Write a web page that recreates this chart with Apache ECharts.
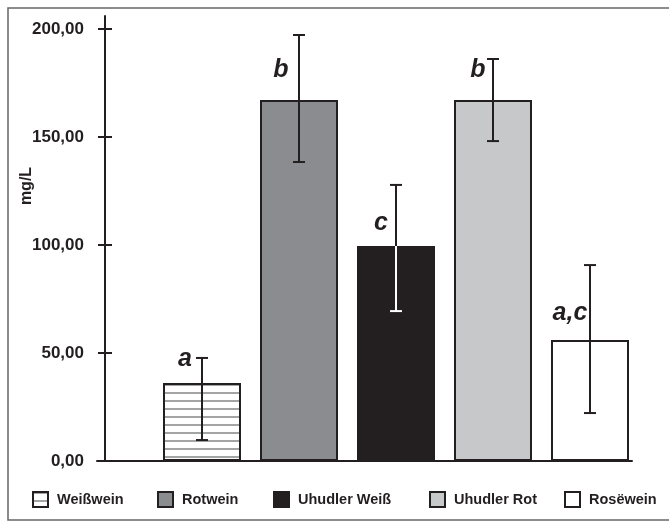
<!DOCTYPE html>
<html>
<head>
<meta charset="utf-8">
<script src="https://cdn.jsdelivr.net/npm/echarts@6/dist/echarts.min.js"></script>
<style>
html,body{margin:0;padding:0;background:#fff;}
#chart{width:669px;height:522px;}
</style>
</head>
<body>
<div id="chart"></div>
<script>
// ---- data ----
const categories = ['Weißwein', 'Rotwein', 'Uhudler Weiß', 'Uhudler Rot', 'Rosëwein'];
const positions = [1, 2, 3, 4, 5];
const means = [36.1, 167.1, 99.5, 167.1, 56.0];
const errLow = [9.7, 138.4, 69.4, 148.1, 22.2];
const errHigh = [47.7, 197.2, 127.8, 186.1, 90.7];
const letters = ['a', 'b', 'c', 'b', 'a,c'];
const yTicks = [0, 50, 100, 150, 200];

// ---- styles ----
const FONT = "'Liberation Sans', Arial, sans-serif";
const INK = '#231f20';
const hatch = document.createElement('canvas');
hatch.width = 4; hatch.height = 8;
(function () {
  const c = hatch.getContext('2d');
  c.fillStyle = '#ffffff'; c.fillRect(0, 0, 4, 8);
  c.fillStyle = '#a3a4a6'; c.fillRect(0, 0, 4, 2);
})();
const fills = [{ image: hatch, repeat: 'repeat' }, '#8b8c8f', INK, '#c7c8ca', '#ffffff'];
const innerErrColor = [INK, INK, '#ffffff', INK, INK];
const labelOffsets = [[-17, -11], [-18, -17], [-15, -10], [-15, -17], [-20, -14]];
const legendLeft = [32, 157, 273, 429, 564];

const chart = echarts.init(document.getElementById('chart'), null, { renderer: 'canvas' });

const barSeries = categories.map((name, i) => ({
  name: name,
  type: 'bar',
  stack: 'all',
  barWidth: 78,
  xAxisIndex: 0, yAxisIndex: 0,
  itemStyle: { color: fills[i], borderColor: INK, borderWidth: 2 },
  label: {
    show: true, position: 'top', distance: 0, offset: labelOffsets[i],
    formatter: () => letters[i],
    fontFamily: FONT, fontStyle: 'italic', fontWeight: 'bold', fontSize: 25, color: INK
  },
  emphasis: { disabled: true },
  data: [[positions[i], means[i]]]
}));

const errSeries = {
  type: 'custom',
  xAxisIndex: 0, yAxisIndex: 0,
  z: 5,
  silent: true,
  data: positions.map((p, i) => [p, means[i], errLow[i], errHigh[i], i]),
  renderItem: function (params, api) {
    const x = api.value(0);
    const idx = api.value(4);
    const pm = api.coord([x, api.value(1)]);
    const pl = api.coord([x, api.value(2)]);
    const ph = api.coord([x, api.value(3)]);
    const cx = Math.round(pm[0]);
    const cap = 6;
    const st = { stroke: INK, lineWidth: 2 };
    return {
      type: 'group',
      children: [
        { type: 'line', shape: { x1: cx, y1: ph[1], x2: cx, y2: pm[1] }, style: st },
        { type: 'line', shape: { x1: cx, y1: pm[1], x2: cx, y2: pl[1] }, style: { stroke: innerErrColor[idx], lineWidth: 2 } },
        { type: 'line', shape: { x1: cx - cap, y1: ph[1], x2: cx + cap, y2: ph[1] }, style: st },
        { type: 'line', shape: { x1: cx - cap, y1: pl[1], x2: cx + cap, y2: pl[1] }, style: { stroke: innerErrColor[idx], lineWidth: 2 } }
      ]
    };
  }
};

const gridBox = { left: 97, right: 37, top: 16, bottom: 61 };

chart.setOption({
  animation: false,
  backgroundColor: '#ffffff',
  grid: [Object.assign({}, gridBox), Object.assign({}, gridBox)],
  xAxis: [
    { type: 'value', gridIndex: 0, min: -0.0825, max: 5.433,
      axisLine: { show: true, onZero: false, lineStyle: { color: INK, width: 2 } },
      axisTick: { show: false }, axisLabel: { show: false }, splitLine: { show: false } },
    { type: 'value', gridIndex: 1, min: -0.0825, max: 5.433, show: false }
  ],
  yAxis: [
    { type: 'value', gridIndex: 0, min: 0, max: 206,
      axisLine: { show: true, lineStyle: { color: INK, width: 2 } },
      axisTick: { show: true, length: 7, customValues: yTicks, lineStyle: { color: INK, width: 2 } },
      axisLabel: { show: true, customValues: yTicks, margin: 13,
        formatter: v => v.toFixed(2).replace('.', ','),
        fontFamily: FONT, fontWeight: 'bold', fontSize: 17, color: INK },
      splitLine: { show: false } },
    { type: 'value', gridIndex: 1, min: 0, max: 206,
      axisLine: { show: false },
      axisTick: { show: true, inside: true, length: 7, customValues: yTicks, lineStyle: { color: INK, width: 2 } },
      axisLabel: { show: false }, splitLine: { show: false } }
  ],
  legend: categories.map((name, i) => ({
    data: [name],
    left: legendLeft[i],
    top: 491,
    padding: 0,
    itemWidth: 15, itemHeight: 15,
    icon: 'rect',
    selectedMode: false,
    textStyle: { fontFamily: FONT, fontWeight: 'bold', fontSize: 14.5, color: INK, padding: [0, 0, 0, 4] }
  })),
  graphic: [
    { type: 'rect', shape: { x: 8, y: 8, width: 670, height: 512 },
      style: { fill: 'none', stroke: '#666666', lineWidth: 1.5 }, silent: true, z: 100 },
    { type: 'text', x: 27, y: 186, rotation: Math.PI / 2,
      style: { text: 'mg/L', fontFamily: FONT, fontWeight: 'bold', fontSize: 16, fill: INK,
        align: 'center', verticalAlign: 'middle' } }
  ],
  series: barSeries.concat([errSeries, {
    type: 'line', xAxisIndex: 1, yAxisIndex: 1, data: [], silent: true
  }])
});
</script>
</body>
</html>
